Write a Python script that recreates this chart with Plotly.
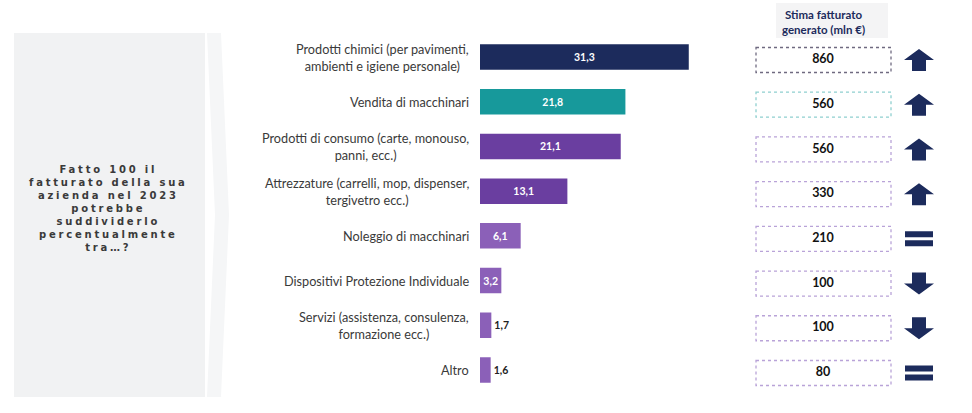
import plotly.graph_objects as go

# ---------------- data ----------------
categories = [
    "Prodotti chimici (per pavimenti,<br>ambienti e igiene personale)",
    "Vendita di macchinari",
    "Prodotti di consumo (carte, monouso,<br>panni, ecc.)",
    "Attrezzature (carrelli, mop, dispenser,<br>tergivetro ecc.)",
    "Noleggio di macchinari",
    "Dispositivi Protezione Individuale",
    "Servizi (assistenza, consulenza,<br>formazione ecc.)",
    "Altro",
]
shares = [31.3, 21.8, 21.1, 13.1, 6.1, 3.2, 1.7, 1.6]
revenue_mln = [860, 560, 560, 330, 210, 100, 100, 80]
trend = ["up", "up", "up", "up", "eq", "down", "down", "eq"]

question_lines = ["Fatto 100 il", "fatturato della sua", "azienda nel 2023",
                  "potrebbe", "suddividerlo", "percentualmente", "tra…?"]
header = "Stima fatturato<br>generato (mln €)"

# ---------------- styles ----------------
bar_colors = ["#1c2b5c", "#17999b", "#6a3ea0", "#6a3ea0",
              "#8b60b8", "#8b60b8", "#8b60b8", "#8b60b8"]
box_colors = ["#6f6a80", "#8fd0cf"] + ["#b9a3d8"] * 6
navy = "#1c2b5c"
W, H = 972, 413
ROW_PX = 44.71
RIGHT_SHIFT_PX = 3  # right column sits slightly lower than the bars


def u(px):
    return px / ROW_PX


idx = list(range(len(categories)))
labels = [f"{v:.1f}".replace(".", ",") for v in shares]
inside = [v > 3 for v in shares]
textpos = ["inside" if i else "outside" for i in inside]
textcol = ["white" if i else "#222222" for i in inside]

fig = go.Figure()

fig.add_trace(go.Bar(
    y=idx, x=shares, orientation="h",
    marker=dict(color=bar_colors, line=dict(width=0)),
    width=0.57,
    text=labels, textposition=textpos, insidetextanchor="middle",
    textfont=dict(family="Lato", size=10.5, color=textcol, weight="bold"),
    cliponaxis=False, hoverinfo="skip",
))

# revenue values in the right column
fig.add_trace(go.Scatter(
    x=[823] * len(idx), y=[i + u(RIGHT_SHIFT_PX) for i in idx], xaxis="x2", yaxis="y",
    mode="text", text=[str(v) for v in revenue_mln],
    textfont=dict(family="Lato", size=12.5, color="#111111", weight="bold"),
    hoverinfo="skip", showlegend=False,
))

shapes = []
# left grey panel + chevron strip
shapes.append(dict(type="rect", xref="paper", yref="paper",
                   x0=14 / W, x1=205 / W, y0=1 - 397 / H, y1=1 - 33 / H,
                   fillcolor="#f1f2f3", line=dict(width=0), layer="below"))
shapes.append(dict(type="path", xref="paper", yref="paper",
                   path=(f"M {207/W},{1-33/H} L {221/W},{1-33/H} L {229/W},{1-215/H} "
                         f"L {221/W},{1-397/H} L {207/W},{1-397/H} L {215/W},{1-215/H} Z"),
                   fillcolor="#f5f6f7", line=dict(width=0), layer="below"))
# header background
shapes.append(dict(type="rect", xref="x2", yref="paper",
                   x0=776, x1=888, y0=1 - 38 / H, y1=1 - 3 / H,
                   fillcolor="#f4f4f5", line=dict(width=0), layer="below"))

for i in idx:
    yc = i + u(RIGHT_SHIFT_PX)
    shapes.append(dict(type="rect", xref="x2", yref="y",
                       x0=756, x1=891, y0=yc - u(12.5), y1=yc + u(12.5),
                       line=dict(color=box_colors[i], width=1.3, dash="dot"),
                       fillcolor="white", layer="below"))
    cx = 919
    t = trend[i]
    if t in ("up", "down"):
        s = -1 if t == "up" else 1  # pixel offsets, positive = downwards
        pts = [(0, 11 * s), (15, 0), (7, 0), (7, -11 * s), (-7, -11 * s), (-7, 0), (-15, 0)]
        path = "M " + " L ".join(f"{cx+dx},{yc+u(dy)}" for dx, dy in pts) + " Z"
        shapes.append(dict(type="path", xref="x2", yref="y", path=path,
                           fillcolor=navy, line=dict(width=0)))
    else:
        for a, b in ((-7.5, -1.5), (1.5, 7.5)):
            shapes.append(dict(type="rect", xref="x2", yref="y",
                               x0=cx - 14, x1=cx + 14, y0=yc + u(a), y1=yc + u(b),
                               fillcolor=navy, line=dict(width=0)))

annotations = []
for i, c in zip(idx, categories):
    annotations.append(dict(x=0, y=i, xref="x", yref="y", text=c,
                            xanchor="right", yanchor="middle", align="center",
                            xshift=-9, showarrow=False,
                            font=dict(family="Lato", size=12.7, color="#3a3a3a")))
q_text = "<br>".join(f'<span style="letter-spacing:2.8px;font-weight:bold">{l}</span>'
                     for l in question_lines)
annotations.append(dict(x=108 / W, y=1 - 208 / H, xref="paper", yref="paper",
                        text=q_text, showarrow=False,
                        xanchor="center", yanchor="middle", align="center",
                        font=dict(family="DejaVu Sans", size=10, color="#3a3a3a",
                                  weight="bold")))
annotations.append(dict(x=823, y=1 - 22 / H, xref="x2", yref="paper",
                        text=f"<b>{header}</b>", showarrow=False,
                        xanchor="center", yanchor="middle", align="center",
                        font=dict(family="Lato", size=11.5, color=navy, weight="bold")))

y0px, y1px = 57 - ROW_PX / 2, 57 + 7 * ROW_PX + ROW_PX / 2
fig.update_layout(
    width=W, height=H,
    margin=dict(l=0, r=0, t=0, b=0),
    paper_bgcolor="white", plot_bgcolor="rgba(0,0,0,0)",
    showlegend=False,
    xaxis=dict(domain=[480 / W, (480 + 6.67 * 35) / W], range=[0, 35],
               visible=False, fixedrange=True),
    xaxis2=dict(domain=[729 / W, 1.0], range=[729, 972], anchor="y",
                visible=False, fixedrange=True),
    yaxis=dict(domain=[1 - y1px / H, 1 - y0px / H], range=[7.5, -0.5],
               visible=False, fixedrange=True),
    shapes=shapes, annotations=annotations,
    uniformtext=dict(minsize=10, mode="show"),
)

fig.write_html("out.html")
